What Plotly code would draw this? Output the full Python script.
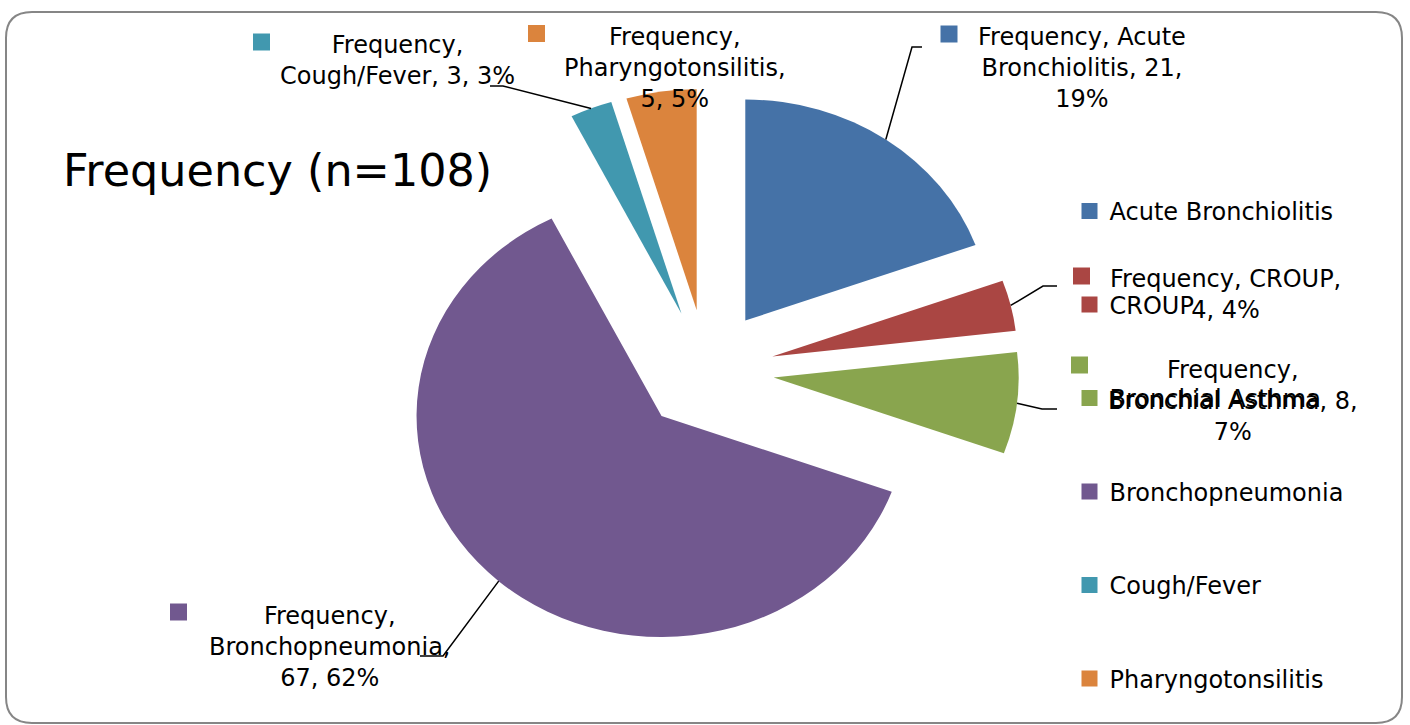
import math
import plotly.graph_objects as go

# ---------------- data ----------------
series_name = "Frequency"
categories = ["Acute Bronchiolitis", "CROUP", "Bronchial Asthma",
              "Bronchopneumonia", "Cough/Fever", "Pharyngotonsilitis"]
frequency = [21, 4, 8, 67, 3, 5]
colors = ["#4572A7", "#AA4643", "#89A54E", "#71588F", "#4198AF", "#DB843D"]

total_n = sum(frequency)
percents = [round(100 * v / total_n) for v in frequency]

# ---------------- layout helpers ----------------
W, H = 1410, 725
FONT = "DejaVu Sans"


def X(px):
    return px / W


def Y(py):
    return 1 - py / H


# pie geometry (pixels); the original chart is drawn slightly wider than tall
pie_cx, pie_cy, pie_r, pie_pull = 706.5, 370.5, 221, 0.276
stretch_x = 245 / 221
half = pie_r * (1 + pie_pull)
dom_x = [X(pie_cx - half), X(pie_cx + half)]
dom_y = [Y(pie_cy + half), Y(pie_cy - half)]

# data-label layout: words per line, block centre, key square centre, leader elbow
label_words = {
    "Acute Bronchiolitis": [2, 2, 1],
    "CROUP": [2, 2],
    "Bronchial Asthma": [1, 3, 1],
    "Bronchopneumonia": [1, 1, 2],
    "Cough/Fever": [1, 3],
    "Pharyngotonsilitis": [1, 1, 2],
}
label_center = {
    "Acute Bronchiolitis": (1082, 68),
    "CROUP": (1225, 294),
    "Bronchial Asthma": (1233, 401),
    "Bronchopneumonia": (330, 647),
    "Cough/Fever": (397, 61),
    "Pharyngotonsilitis": (675, 68),
}
key_center = {
    "Acute Bronchiolitis": (949, 34),
    "CROUP": (1081.5, 276),
    "Bronchial Asthma": (1079.5, 365),
    "Bronchopneumonia": (178.5, 612),
    "Cough/Fever": (261.5, 42),
    "Pharyngotonsilitis": (536.5, 33.5),
}
leader_elbow = {
    "Acute Bronchiolitis": [(912, 47), (922, 47)],
    "CROUP": [(1043, 286), (1057, 286)],
    "Bronchial Asthma": [(1042, 409), (1057, 409)],
    "Bronchopneumonia": [(443, 656), (420, 656)],
    "Cough/Fever": [(503, 86), (490, 86)],
    "Pharyngotonsilitis": [],
}

fig = go.Figure()

fig.add_trace(go.Pie(
    labels=categories,
    values=frequency,
    sort=False,
    direction="clockwise",
    rotation=0,
    pull=[pie_pull] * len(frequency),
    marker=dict(colors=colors, line=dict(width=0)),
    textinfo="none",
    showlegend=False,
    domain=dict(x=dom_x, y=dom_y),
    name=series_name,
))

# legend entries
for cat, col in zip(categories, colors):
    fig.add_trace(go.Scatter(
        x=[None], y=[None], mode="markers", name=cat,
        marker=dict(symbol="square", size=16, color=col),
        legendgroup=cat, showlegend=True, hoverinfo="skip",
    ))

annotations = []
shapes = []
cum = 0
KEY = 8.5
for cat, v, p, col in zip(categories, frequency, percents, colors):
    words = f"{series_name}, {cat}, {v}, {p}%".split(" ")
    lines, i = [], 0
    for n in label_words[cat]:
        lines.append(" ".join(words[i:i + n]))
        i += n
    lx, ly = label_center[cat]
    annotations.append(dict(
        x=X(lx), y=Y(ly), xref="paper", yref="paper",
        text="<br>".join(lines), showarrow=False,
        xanchor="center", yanchor="middle", align="center",
        font=dict(family=FONT, size=24, color="black"),
    ))
    kx, ky = key_center[cat]
    shapes.append(dict(type="rect", xref="paper", yref="paper",
                       x0=X(kx - KEY), x1=X(kx + KEY), y0=Y(ky + KEY), y1=Y(ky - KEY),
                       fillcolor=col, line=dict(width=0)))
    # leader line from mid-arc of the exploded slice
    theta = 2 * math.pi * (cum + v / 2) / total_n
    cum += v
    if leader_elbow[cat]:
        ax = pie_cx + stretch_x * pie_r * (1 + pie_pull) * math.sin(theta)
        ay = pie_cy - pie_r * (1 + pie_pull) * math.cos(theta)
        pts = [(ax, ay)] + leader_elbow[cat]
        path = "M " + " L ".join(f"{X(px):.5f},{Y(py):.5f}" for px, py in pts)
        shapes.append(dict(type="path", xref="paper", yref="paper", path=path,
                           line=dict(color="black", width=1.5)))

# rounded chart border
bx0, by0, bx1, by1, rad = 6, 12, 1402, 723, 26
pts_path = (
    f"M {X(bx0 + rad)},{Y(by0)} L {X(bx1 - rad)},{Y(by0)} "
    f"Q {X(bx1)},{Y(by0)} {X(bx1)},{Y(by0 + rad)} "
    f"L {X(bx1)},{Y(by1 - rad)} Q {X(bx1)},{Y(by1)} {X(bx1 - rad)},{Y(by1)} "
    f"L {X(bx0 + rad)},{Y(by1)} Q {X(bx0)},{Y(by1)} {X(bx0)},{Y(by1 - rad)} "
    f"L {X(bx0)},{Y(by0 + rad)} Q {X(bx0)},{Y(by0)} {X(bx0 + rad)},{Y(by0)} Z"
)
shapes.append(dict(type="path", xref="paper", yref="paper", path=pts_path,
                   line=dict(color="#868686", width=2), layer="below"))

fig.update_layout(
    width=W, height=H,
    margin=dict(l=0, r=0, t=0, b=0),
    paper_bgcolor="white", plot_bgcolor="white",
    title=dict(text=f"{series_name} (n={total_n})", x=X(63), y=Y(170),
               xref="paper", yref="paper", xanchor="left", yanchor="middle",
               font=dict(family=FONT, size=44.5, color="black")),
    xaxis=dict(visible=False), yaxis=dict(visible=False),
    showlegend=True,
    legend=dict(x=X(1069.5), y=Y(189), xanchor="left", yanchor="top",
                font=dict(family=FONT, size=24, color="black"),
                tracegroupgap=59.3, bgcolor="rgba(0,0,0,0)", borderwidth=0),
    annotations=annotations,
    shapes=shapes,
    font=dict(family=FONT),
)

post_js = (
    "document.body.style.margin='0';"
    "var gd=document.getElementById('{plot_id}');"
    "var pl=gd.querySelector('.pielayer');"
    f"if(pl){{pl.setAttribute('transform','translate({pie_cx},0) scale({stretch_x:.4f},1) translate({-pie_cx},0)');}}"
)

fig.write_html("out.html", post_script=post_js, config={"displayModeBar": False})
